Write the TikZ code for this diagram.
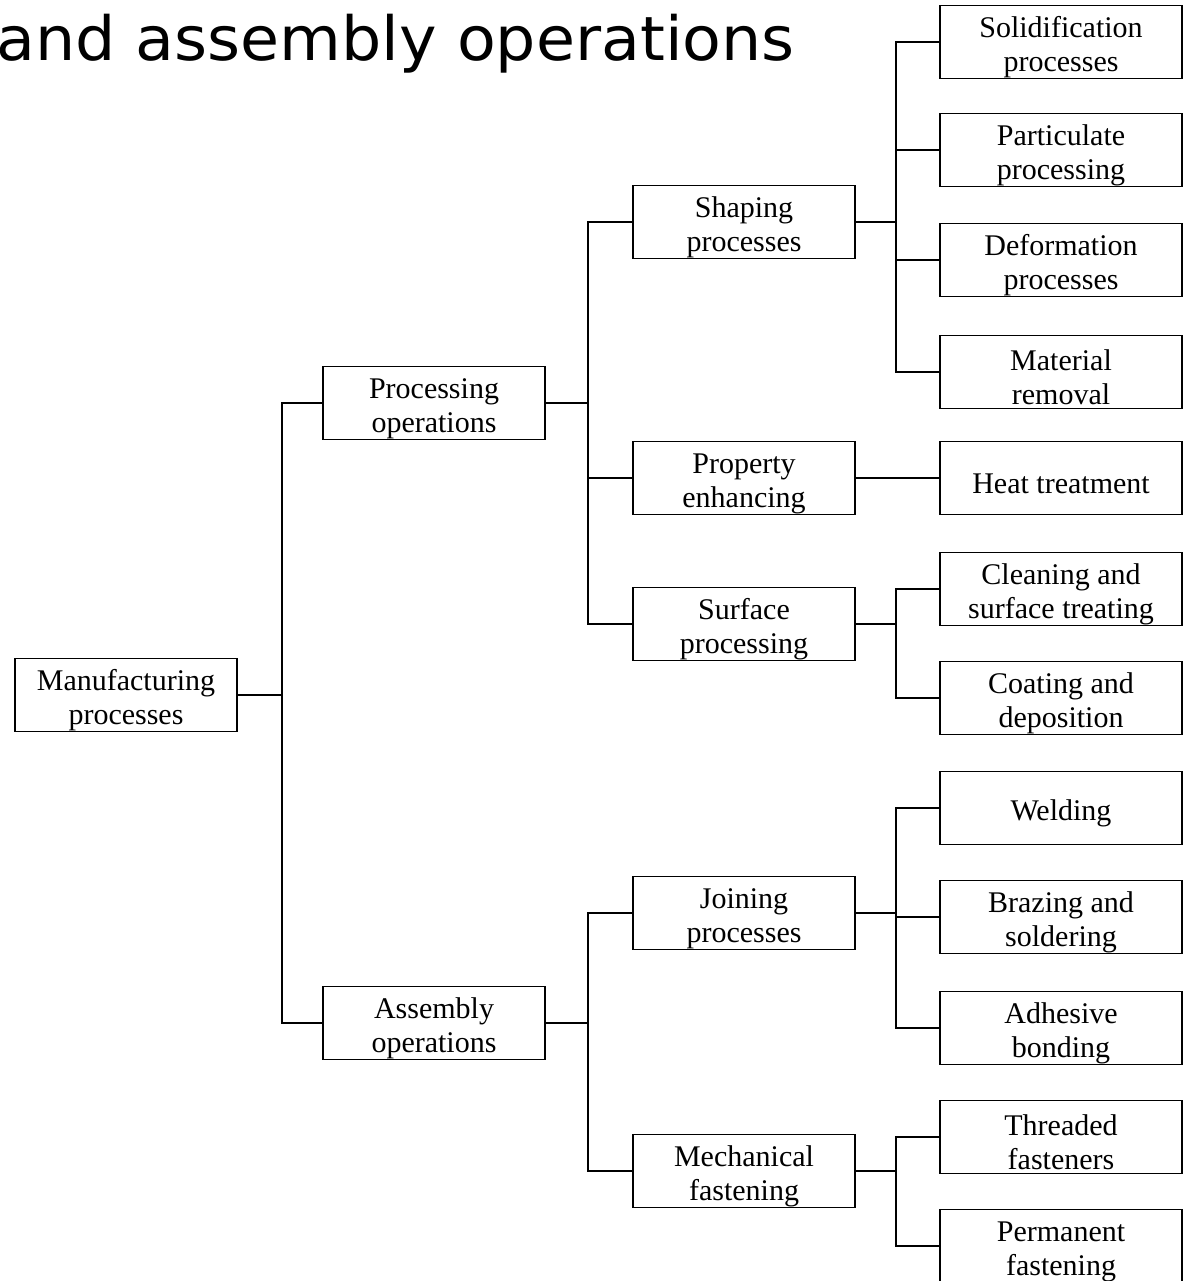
\documentclass[tikz,border=0pt]{standalone}
\usepackage{fontspec}
\setmainfont{Liberation Serif}
\newfontfamily\titlefont{DejaVu Sans}
\newcommand{\tstrut}{\rule{0pt}{31pt}}
\begin{document}
\begin{tikzpicture}[x=1pt,y=-1pt,
  box/.style={draw, line width=1.8pt, minimum width=222pt, minimum height=73pt, inner sep=0pt, align=center, font=\fontsize{30}{34}\selectfont},
  leaf/.style={box, minimum width=242pt},
  conn/.style={line width=1.8pt}]
\useasboundingbox (0,0) rectangle (1183,1281);
\clip (0,0) rectangle (1183,1281);

\node[anchor=base west, inner sep=0pt, font=\titlefont\fontsize{61}{70}\selectfont] (title) at (-4,61) {\scalebox{1.04}[1]{and assembly operations}};

% level 0
\node[box] (man) at (126,695) {\tstrut Manufacturing\\processes};
% level 1
\node[box] (proc) at (434,403) {\tstrut Processing\\operations};
\node[box] (asm) at (434,1023) {\tstrut Assembly\\operations};
% level 2
\node[box] (shp) at (744,222) {\tstrut Shaping\\processes};
\node[box] (prop) at (744,478) {\tstrut Property\\enhancing};
\node[box] (surf) at (744,624) {\tstrut Surface\\processing};
\node[box] (join) at (744,913) {\tstrut Joining\\processes};
\node[box] (mech) at (744,1171) {\tstrut Mechanical\\fastening};
% level 3
\node[leaf] (sol) at (1061,42) {\tstrut Solidification\\processes};
\node[leaf] (part) at (1061,150) {\tstrut Particulate\\processing};
\node[leaf] (def) at (1061,260) {\tstrut Deformation\\processes};
\node[leaf] (mat) at (1061,372) {\tstrut Material\\removal};
\node[leaf] (heat) at (1061,478) {\tstrut Heat treatment};
\node[leaf] (clean) at (1061,589) {\tstrut Cleaning and\\surface treating};
\node[leaf] (coat) at (1061,698) {\tstrut Coating and\\deposition};
\node[leaf] (weld) at (1061,808) {\tstrut Welding};
\node[leaf] (braz) at (1061,917) {\tstrut Brazing and\\soldering};
\node[leaf] (adh) at (1061,1028) {\tstrut Adhesive\\bonding};
\node[leaf] (thr) at (1061,1137) {\tstrut Threaded\\fasteners};
\node[leaf] (perm) at (1061,1246) {\tstrut Permanent\\fastening};

% elbow columns
\coordinate (c1) at (282,0);
\coordinate (c2) at (588,0);
\coordinate (c3) at (896,0);

% connectors
\foreach \p/\c in {man/proc, man/asm}
  \draw[conn] (\p.east) -- (\p.east -| c1) |- (\c.west);
\foreach \p/\c in {proc/shp, proc/prop, proc/surf, asm/join, asm/mech}
  \draw[conn] (\p.east) -- (\p.east -| c2) |- (\c.west);
\foreach \p/\c in {shp/sol, shp/part, shp/def, shp/mat, surf/clean, surf/coat, join/weld, join/braz, join/adh, mech/thr, mech/perm}
  \draw[conn] (\p.east) -- (\p.east -| c3) |- (\c.west);
\draw[conn] (prop.east) -- (heat.west);
\end{tikzpicture}
\end{document}
